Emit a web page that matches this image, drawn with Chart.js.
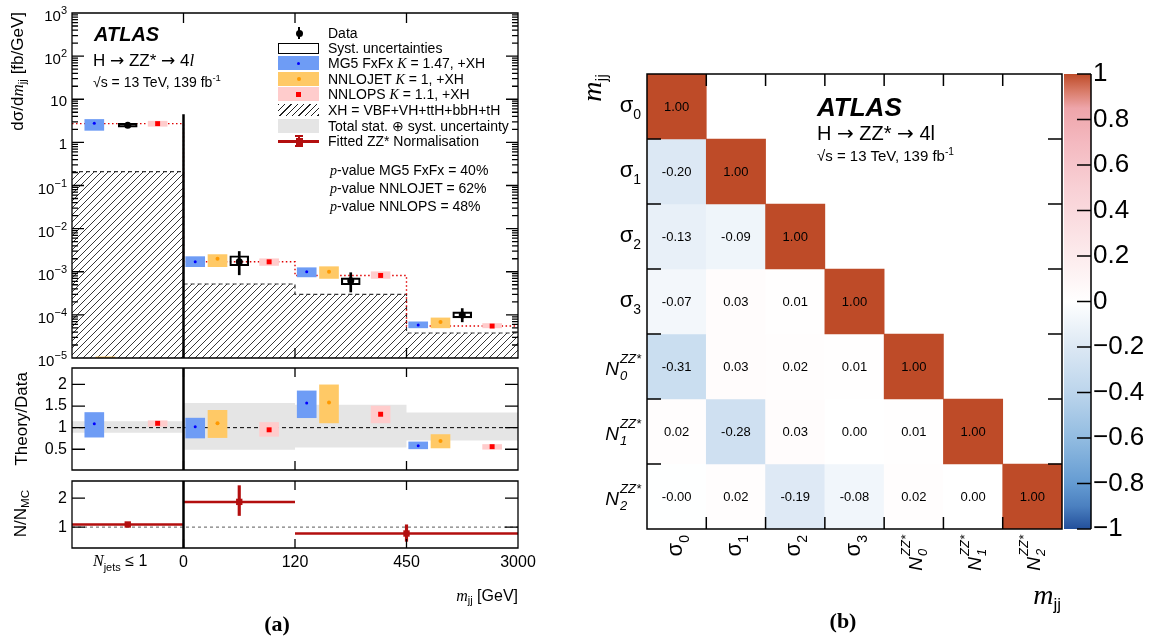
<!DOCTYPE html>
<html>
<head>
<meta charset="utf-8">
<title>H to ZZ* to 4l, m_jj</title>
<script src="https://cdn.jsdelivr.net/npm/chart.js@4.4.1/dist/chart.umd.min.js"></script>
<style>
  body { margin: 0; background: #fff; }
  #page { position: relative; width: 1153px; height: 639px; overflow: hidden; background: #fff;
          font-family: "Liberation Sans", Arial, Helvetica, sans-serif; color: #000; }
  #page canvas { position: absolute; left: 0; top: 0; }
  .t { position: absolute; white-space: nowrap; line-height: 1; }
  .l { transform: translate(0, -50%); }
  .r { transform: translate(-100%, -50%); }
  .c { transform: translate(-50%, -50%); }
  .v { transform-origin: 0 0; transform: rotate(-90deg) translate(-100%, -50%); }
  .it { font-family: "Liberation Serif", "Times New Roman", serif; font-style: italic; }
  .bf { font-family: "Liberation Serif", "Times New Roman", serif; font-weight: bold; }
  .atlas { font-weight: bold; font-style: italic; }
  .ar { font-family: "DejaVu Sans", sans-serif; }
  .sb { font-size: 0.68em; vertical-align: -0.3em; }
  .su { font-size: 0.68em; vertical-align: 0.55em; }
  .ex { font-size: 11px; vertical-align: 7px; }
  .ss { display: inline-block; vertical-align: -5px; font-size: 13px; line-height: 17px; font-style: italic; margin-left: 1px; }
  .ss span { display: block; }
  .sw { position: absolute; box-sizing: border-box; }
</style>
</head>
<body>
<div id="page">
  <canvas id="cTop" width="1153" height="639"></canvas>
  <canvas id="cRatio" width="1153" height="639"></canvas>
  <canvas id="cNorm" width="1153" height="639"></canvas>
  <canvas id="cCorr" width="1153" height="639"></canvas>
  <canvas id="cBar" width="1153" height="639"></canvas>

  <!-- panel (a) text -->
  <div class="t v" style="left:19px;top:12px;font-size:17px">dσ/d<span class="it">m</span><span class="sb">jj</span> [fb/GeV]</div>
  <div class="t v" style="left:21px;top:372px;font-size:17px">Theory/Data</div>
  <div class="t v" style="left:22px;top:490px;font-size:17px">N/N<span class="sb">MC</span></div>
  <div class="t l atlas" style="left:94px;top:34px;font-size:20px">ATLAS</div>
  <div class="t l" style="left:93px;top:60px;font-size:17px">H <span class="ar">→</span> ZZ* <span class="ar">→</span> 4<span class="it">l</span></div>
  <div class="t l" style="left:93px;top:81px;font-size:14px">√s = 13 TeV, 139 fb<span class="su">-1</span></div>

  <div class="sw" style="left:298px;top:27px;width:2px;height:12px;background:#000"></div>
  <div class="sw" style="left:295.5px;top:29.5px;width:7px;height:7px;border-radius:50%;background:#000"></div>
  <div class="sw" style="left:278px;top:42.5px;width:41px;height:11px;border:1.5px solid #000"></div>
  <div class="sw" style="left:278px;top:56px;width:41px;height:14px;background:#6e9cf5"></div>
  <div class="sw" style="left:297px;top:61.5px;width:3px;height:3px;border-radius:50%;background:#00f"></div>
  <div class="sw" style="left:278px;top:72px;width:41px;height:14px;background:#ffc966"></div>
  <div class="sw" style="left:296.5px;top:77px;width:4px;height:4px;border-radius:50%;background:#f90"></div>
  <div class="sw" style="left:278px;top:87px;width:41px;height:14px;background:#ffcccc"></div>
  <div class="sw" style="left:296px;top:91.5px;width:5px;height:5px;background:#f00"></div>
  <div class="sw" style="left:278px;top:104px;width:41px;height:12px;background:repeating-linear-gradient(135deg,#222 0 1px,transparent 1px 4.5px)"></div>
  <div class="sw" style="left:278px;top:119px;width:41px;height:14px;background:#e5e5e5"></div>
  <div class="sw" style="left:278px;top:140px;width:41px;height:2.5px;background:#b30f0f"></div>
  <div class="sw" style="left:297.5px;top:135px;width:2.5px;height:12px;background:#b30f0f"></div>
  <div class="sw" style="left:294.5px;top:135px;width:8px;height:2px;background:#b30f0f"></div>
  <div class="sw" style="left:294.5px;top:145px;width:8px;height:2px;background:#b30f0f"></div>
  <div class="sw" style="left:295.5px;top:137.5px;width:7px;height:7px;background:#b30f0f"></div>

  <div class="t l" style="left:328px;top:33px;font-size:14px">Data</div>
  <div class="t l" style="left:328px;top:48px;font-size:14px">Syst. uncertainties</div>
  <div class="t l" style="left:328px;top:63px;font-size:14px">MG5 FxFx <span class="it">K</span> = 1.47, +XH</div>
  <div class="t l" style="left:328px;top:79px;font-size:14px">NNLOJET <span class="it">K</span> = 1, +XH</div>
  <div class="t l" style="left:328px;top:94px;font-size:14px">NNLOPS <span class="it">K</span> = 1.1, +XH</div>
  <div class="t l" style="left:328px;top:109.5px;font-size:14px">XH = VBF+VH+ttH+bbH+tH</div>
  <div class="t l" style="left:328px;top:126px;font-size:14px">Total stat. ⊕ syst. uncertainty</div>
  <div class="t l" style="left:328px;top:141px;font-size:14px">Fitted ZZ* Normalisation</div>

  <div class="t l" style="left:330px;top:170px;font-size:14px"><span class="it">p</span>-value MG5 FxFx = 40%</div>
  <div class="t l" style="left:330px;top:188px;font-size:14px"><span class="it">p</span>-value NNLOJET = 62%</div>
  <div class="t l" style="left:330px;top:206px;font-size:14px"><span class="it">p</span>-value NNLOPS = 48%</div>

  <div class="t l" style="left:93px;top:563px;font-size:16px"><span class="it">N</span><span style="font-size:11px;vertical-align:-5px">jets</span> ≤ 1</div>
  <div class="t r" style="left:518px;top:597px;font-size:16px"><span class="it">m</span><span class="sb">jj</span> [GeV]</div>
  <div class="t c bf" style="left:277px;top:624px;font-size:22px">(a)</div>

  <!-- panel (b) text -->
  <div class="t v" style="left:594px;top:74px"><span class="it" style="font-size:28px">m</span><span style="font-size:17px;vertical-align:-6px">jj</span></div>
  <div class="t r" style="left:1061px;top:597px"><span class="it" style="font-size:28px">m</span><span style="font-size:17px;vertical-align:-6px">jj</span></div>
  <div class="t l atlas" style="left:817px;top:107px;font-size:26px">ATLAS</div>
  <div class="t l" style="left:817px;top:133px;font-size:20px">H <span class="ar">→</span> ZZ* <span class="ar">→</span> 4l</div>
  <div class="t l" style="left:817px;top:155px;font-size:15px">√s = 13 TeV, 139 fb<span class="su">-1</span></div>
  <div class="t c bf" style="left:843px;top:621px;font-size:22px">(b)</div>
</div>

<script>
// ---------- values ----------
// bins: N_jets <= 1, then m_jj in [0,120), [120,450), [450,3000] GeV
var binEdges = ['', '0', '120', '450', '3000'];

// dσ/dm_jj [fb/GeV]
var dataVal    = [2.48, 1.71e-3, 6.2e-4, 1.0e-4];
var dataStatLo = [2.2, 8.5e-4, 3.4e-4, 6.9e-5];
var dataStatHi = [2.8, 2.95e-3, 9.5e-4, 1.4e-4];
var dataSystLo = [2.24, 1.38e-3, 5.0e-4, 8.5e-5];
var dataSystHi = [2.75, 2.35e-3, 7.2e-4, 1.17e-4];

var mg5Val = [2.77, 1.70e-3, 1.0e-3, 5.8e-5];
var mg5Lo  = [1.9, 1.31e-3, 7.6e-4, 5.0e-5];
var mg5Hi  = [3.4, 2.24e-3, 1.24e-3, 6.9e-5];

var jetVal = [null, 2.0e-3, 1.0e-3, 6.8e-5];
var jetLo  = [1e-6, 1.31e-3, 7.0e-4, 5.0e-5];
var jetHi  = [1.07e-5, 2.5e-3, 1.31e-3, 8.5e-5];

var nlpVal = [2.72, 1.70e-3, 8.2e-4, 5.5e-5];
var nlpLo  = [2.36, 1.40e-3, 7.0e-4, 5.0e-5];
var nlpHi  = [3.1, 2.0e-3, 1.0e-3, 6.3e-5];

var xhVal = [0.21, 5.2e-4, 3.0e-4, 3.8e-5];

// Theory/Data
var mg5R   = [1.09, 1.02, 1.57, 0.58];
var mg5RLo = [0.78, 0.76, 1.23, 0.51];
var mg5RHi = [1.35, 1.22, 1.85, 0.67];
var jetR   = [null, 1.10, 1.58, 0.69];
var jetRLo = [null, 0.77, 1.11, 0.53];
var jetRHi = [null, 1.40, 1.99, 0.84];
var nlpR   = [1.10, 0.95, 1.31, 0.56];
var nlpRLo = [1.03, 0.80, 1.11, 0.50];
var nlpRHi = [1.16, 1.12, 1.50, 0.61];
var totLo  = [0.88, 0.49, 0.54, 0.70];
var totHi  = [1.15, 1.57, 1.53, 1.35];

// fitted ZZ* normalisation N/N_MC (bins in bin-index units)
var normFrom = [0, 1, 2];
var normTo   = [1, 2, 4];
var normVal  = [1.09, 1.87, 0.78];
var normLo   = [1.03, 1.40, 0.51];
var normHi   = [1.15, 2.43, 1.08];

// correlation matrix, lower triangle
var corrNames = ['σ0', 'σ1', 'σ2', 'σ3', 'N0', 'N1', 'N2'];
var corr = [
  [1.00],
  [-0.20, 1.00],
  [-0.13, -0.09, 1.00],
  [-0.07, 0.03, 0.01, 1.00],
  [-0.31, 0.03, 0.02, 0.01, 1.00],
  [0.02, -0.28, 0.03, 0.00, 0.01, 1.00],
  [-0.004, 0.02, -0.19, -0.08, 0.02, 0.00, 1.00]
];

var logTicks   = [1e-5, 1e-4, 1e-3, 1e-2, 1e-1, 1, 10, 100, 1000];
var ratioTicks = [0.5, 1, 1.5, 2];
var normTicks  = [1, 2];
var cbarTicks  = [-1, -0.8, -0.6, -0.4, -0.2, 0, 0.2, 0.4, 0.6, 0.8, 1];

// ---------- style ----------
var BLUE = '#6e9cf5', ORANGE = '#ffc966', PINK = '#ffcccc', GREY = '#e5e5e5', DARKRED = '#b30f0f';
var offMg5 = [0.2, 0.105, 0.105, 0.105];
var offJet = [0.3, 0.305, 0.305, 0.305];
var offData = [0.5, 0.5, 0.5, 0.5];
var offNlp = [0.768, 0.768, 0.768, 0.768];
var BOX = 19;

var cmapStops = [
  [-1.0, [35, 80, 155]], [-0.9, [75, 128, 192]], [-0.8, [100, 155, 210]], [-0.6, [146, 188, 225]],
  [-0.4, [188, 213, 236]], [-0.2, [220, 232, 244]], [0.0, [255, 255, 255]], [0.15, [253, 240, 241]],
  [0.3, [251, 226, 229]], [0.5, [248, 208, 213]], [0.7, [244, 185, 192]], [0.85, [238, 165, 170]],
  [0.93, [215, 120, 100]], [1.0, [190, 75, 40]]
];

Chart.defaults.font.family = '"Liberation Sans", Arial, "DejaVu Sans", sans-serif';
Chart.defaults.color = '#000';
Chart.defaults.animation = false;
Chart.defaults.plugins.legend.display = false;
Chart.defaults.plugins.tooltip.enabled = false;

function cmap(v) {
  for (var k = 1; k < cmapStops.length; k++) {
    var a = cmapStops[k - 1], b = cmapStops[k];
    if (v <= b[0]) {
      var f = (v - a[0]) / (b[0] - a[0]);
      var c = a[1].map(function (x, n) { return Math.round(x + f * (b[1][n] - x)); });
      return 'rgb(' + c.join(',') + ')';
    }
  }
  return 'rgb(' + cmapStops[cmapStops.length - 1][1].join(',') + ')';
}

function pts(vals, off) {
  var out = [];
  vals.forEach(function (v, i) { if (v != null) out.push({x: i + off[i], y: v}); });
  return out;
}
function spans(lo, hi, off) {
  var out = [];
  lo.forEach(function (l, i) { if (l != null) out.push({x: i + off[i], y: [l, hi[i]]}); });
  return out;
}
// histogram outline, value i covers [i, i+1]
function steps(vals) {
  return vals.map(function (v, i) { return {x: i, y: v}; }).concat([{x: vals.length, y: vals[vals.length - 1]}]);
}
function box(lo, hi, off, color, order) {
  return {type: 'bar', data: spans(lo, hi, off), backgroundColor: color, borderWidth: 0,
          barThickness: BOX, grouped: false, order: order};
}
function marker(vals, off, color, style, r, order) {
  return {type: 'line', data: pts(vals, off), showLine: false, pointStyle: style, pointRadius: r,
          pointBackgroundColor: color, pointBorderWidth: 0, order: order};
}
function yLabel(v) {
  return String(Math.round(v * 100) / 100);
}

function makeHatch() {
  var c = document.createElement('canvas');
  c.width = 7; c.height = 7;
  var g = c.getContext('2d');
  g.strokeStyle = '#222';
  g.lineWidth = 0.9;
  g.beginPath();
  g.moveTo(0, 7); g.lineTo(7, 0);
  g.moveTo(-1, 1); g.lineTo(1, -1);
  g.moveTo(6, 8); g.lineTo(8, 6);
  g.stroke();
  return g.createPattern(c, 'repeat');
}

// frame around the plot area with ROOT style inner ticks
function frame(cfg) {
  return {
    id: 'frame',
    afterDatasetsDraw: function (chart) {
      var ctx = chart.ctx, a = chart.chartArea, xs = chart.scales.x, ys = chart.scales.y;
      ctx.save();
      ctx.strokeStyle = '#000';
      ctx.lineWidth = cfg.lw || 1.3;
      ctx.beginPath();
      if (cfg.box !== false) ctx.rect(a.left, a.top, a.right - a.left, a.bottom - a.top);
      if (cfg.rightLine) { ctx.moveTo(a.right, a.top); ctx.lineTo(a.right, a.bottom); }
      (cfg.x || []).forEach(function (v) {
        var p = xs.getPixelForValue(v);
        ctx.moveTo(p, a.top); ctx.lineTo(p, a.top + cfg.xLen);
        ctx.moveTo(p, a.bottom); ctx.lineTo(p, a.bottom - cfg.xLen);
      });
      (cfg.y || []).forEach(function (t) {
        var p = ys.getPixelForValue(t.v);
        if (!cfg.rightOnly) { ctx.moveTo(a.left, p); ctx.lineTo(a.left + t.len, p); }
        ctx.moveTo(a.right, p); ctx.lineTo(a.right - t.len, p);
      });
      ctx.stroke();
      ctx.restore();
    }
  };
}

function yAxis(type, min, max, ticks, size, fmt) {
  return {
    type: type, min: min, max: max,
    grid: {display: false, drawTicks: false}, border: {display: false},
    afterFit: function (s) { s.width = 72; },
    afterBuildTicks: function (s) { s.ticks = ticks.map(function (v) { return {value: v}; }); },
    ticks: {display: !!fmt, padding: 5, autoSkip: false, font: {size: size}, color: '#000', callback: fmt}
  };
}
var hiddenX = {type: 'linear', min: 0, max: 4, display: false, offset: false};

// ---------- (a) top: differential cross section ----------
var minorLog = [];
logTicks.slice(0, -1).forEach(function (d) { for (var k = 2; k < 10; k++) minorLog.push({v: k * d, len: 6}); });

var topChart = new Chart(document.getElementById('cTop'), {
  type: 'bar',
  data: {datasets: [
    {type: 'line', data: steps(xhVal), stepped: true, fill: 'start', backgroundColor: makeHatch(),
     borderColor: '#333', borderWidth: 1.2, borderDash: [4, 3], pointRadius: 0, order: 20},
    {type: 'line', data: steps(nlpVal), stepped: true, fill: false, borderColor: '#e00000',
     borderWidth: 1.4, borderDash: [1.5, 2.5], pointRadius: 0, order: 15},
    box(mg5Lo, mg5Hi, offMg5, BLUE, 10),
    box(jetLo, jetHi, offJet, ORANGE, 10),
    box(nlpLo, nlpHi, offNlp, PINK, 10),
    {type: 'bar', data: spans(dataSystLo, dataSystHi, offData), backgroundColor: 'rgba(255,255,255,0)',
     borderColor: '#000', borderWidth: 1.5, borderSkipped: false, barThickness: BOX, grouped: false, order: 8},
    {type: 'bar', data: spans(dataStatLo, dataStatHi, offData), backgroundColor: '#000', borderWidth: 0,
     barThickness: 2, grouped: false, order: 6},
    marker(mg5Val, offMg5, '#0000ff', 'circle', 1.5, 3),
    marker(jetVal, offJet, '#ff9900', 'circle', 2, 3),
    marker(nlpVal, offNlp, '#ff0000', 'rect', 3.5, 3),
    marker(dataVal, offData, '#000', 'circle', 3.5, 2),
    {type: 'line', data: [{x: 1, y: 4.5}, {x: 1, y: 1e-5}], borderColor: '#000', borderWidth: 2.5, pointRadius: 0, order: 1}
  ]},
  options: {
    responsive: false,
    layout: {padding: {left: 0, top: 13, right: 635, bottom: 281}},
    scales: {x: hiddenX, y: yAxis('logarithmic', 1e-5, 1e3, logTicks, 15, null)}
  },
  plugins: [frame({x: [1, 2, 3], xLen: 10,
                   y: logTicks.map(function (v) { return {v: v, len: 12}; }).concat(minorLog)})]
});

// ---------- (a) middle: Theory/Data ----------
new Chart(document.getElementById('cRatio'), {
  type: 'bar',
  data: {datasets: [
    {type: 'line', data: steps(totLo), stepped: true, fill: false, borderColor: 'rgba(0,0,0,0)', pointRadius: 0, order: 21},
    {type: 'line', data: steps(totHi), stepped: true, fill: '-1', backgroundColor: GREY,
     borderColor: 'rgba(0,0,0,0)', pointRadius: 0, order: 20},
    {type: 'line', data: [{x: 0, y: 1}, {x: 4, y: 1}], borderColor: '#000', borderWidth: 1,
     borderDash: [4, 3], pointRadius: 0, order: 15},
    box(mg5RLo, mg5RHi, offMg5, BLUE, 10),
    box(jetRLo, jetRHi, offJet, ORANGE, 10),
    box(nlpRLo, nlpRHi, offNlp, PINK, 10),
    marker(mg5R, offMg5, '#0000ff', 'circle', 1.5, 3),
    marker(jetR, offJet, '#ff9900', 'circle', 2, 3),
    marker(nlpR, offNlp, '#ff0000', 'rect', 3.5, 3),
    {type: 'line', data: [{x: 1, y: 0.02}, {x: 1, y: 2.38}], borderColor: '#000', borderWidth: 2.5, pointRadius: 0, order: 1}
  ]},
  options: {
    responsive: false,
    layout: {padding: {left: 0, top: 368, right: 635, bottom: 169}},
    scales: {x: hiddenX, y: yAxis('linear', 0.02, 2.38, ratioTicks, 16, yLabel)}
  },
  plugins: [frame({x: [1, 2, 3], xLen: 9, y: ratioTicks.map(function (v) { return {v: v, len: 13}; })})]
});

// ---------- (a) bottom: fitted ZZ* normalisation ----------
var normLine = [];
normVal.forEach(function (v, i) {
  normLine.push({x: normFrom[i], y: v}, {x: normTo[i], y: v}, {x: normTo[i], y: null});
});
var normMid = normVal.map(function (v, i) { return (normFrom[i] + normTo[i]) / 2; });

new Chart(document.getElementById('cNorm'), {
  type: 'bar',
  data: {datasets: [
    {type: 'line', data: [{x: 0, y: 1}, {x: 4, y: 1}], borderColor: '#777', borderWidth: 1.2,
     borderDash: [3, 3], pointRadius: 0, order: 15},
    {type: 'line', data: normLine, borderColor: DARKRED, borderWidth: 2.5, pointRadius: 0, spanGaps: false, order: 5},
    {type: 'bar', data: normVal.map(function (v, i) { return {x: normMid[i], y: [normLo[i], normHi[i]]}; }),
     backgroundColor: DARKRED, borderWidth: 0, barThickness: 2.5, grouped: false, order: 4},
    {type: 'line', data: normVal.map(function (v, i) { return {x: normMid[i], y: v}; }), showLine: false,
     pointStyle: 'rect', pointRadius: 4.5, pointBackgroundColor: DARKRED, pointBorderWidth: 0, order: 3},
    {type: 'line', data: [{x: 1, y: 0.28}, {x: 1, y: 2.59}], borderColor: '#000', borderWidth: 2.5, pointRadius: 0, order: 1}
  ]},
  options: {
    responsive: false,
    layout: {padding: {left: 0, top: 481, right: 635, bottom: 69}},
    scales: {
      x: {type: 'linear', min: 0, max: 4, offset: false,
          grid: {display: false, drawTicks: false}, border: {display: false},
          afterFit: function (s) { s.height = 22; },
          afterBuildTicks: function (s) { s.ticks = [1, 2, 3, 4].map(function (v) { return {value: v}; }); },
          ticks: {padding: 5, autoSkip: false, maxRotation: 0, font: {size: 16}, color: '#000',
                  callback: function (v) { return binEdges[Math.round(v)]; }}},
      y: yAxis('linear', 0.28, 2.59, normTicks, 16, yLabel)
    }
  },
  plugins: [frame({x: [1, 2, 3], xLen: 9, y: normTicks.map(function (v) { return {v: v, len: 13}; })})]
});

// ---------- (b) correlation matrix ----------
var nC = corrNames.length;
var cellText = {
  id: 'cellText',
  afterDatasetsDraw: function (chart) {
    var ctx = chart.ctx;
    ctx.save();
    ctx.font = '13px "Liberation Sans", Arial, sans-serif';
    ctx.fillStyle = '#000';
    ctx.textAlign = 'center';
    ctx.textBaseline = 'middle';
    corr.forEach(function (row, i) {
      var meta = chart.getDatasetMeta(i);
      row.forEach(function (v, j) {
        var p = meta.data[j].getCenterPoint();
        ctx.fillText(v.toFixed(2), p.x, p.y + 1);
      });
    });
    ctx.restore();
  }
};

var corrChart = new Chart(document.getElementById('cCorr'), {
  type: 'bar',
  data: {
    labels: corrNames,
    datasets: corr.map(function (row, i) {
      return {
        data: corrNames.map(function (_, j) { return j <= i ? [nC - 1 - i, nC - i] : null; }),
        backgroundColor: corrNames.map(function (_, j) { return j <= i ? cmap(row[j]) : 'rgba(0,0,0,0)'; }),
        borderWidth: 0, barPercentage: 1, categoryPercentage: 1, grouped: false
      };
    })
  },
  options: {
    responsive: false,
    layout: {padding: {left: 647, top: 74, right: 91, bottom: 110}},
    scales: {x: {display: false}, y: {type: 'linear', min: 0, max: nC, display: false}}
  },
  plugins: [cellText, frame({lw: 1.5, x: [0.5, 1.5, 2.5, 3.5, 4.5, 5.5], xLen: 12,
                              y: [1, 2, 3, 4, 5, 6].map(function (v) { return {v: v, len: 14}; })})]
});

// colour scale
new Chart(document.getElementById('cBar'), {
  type: 'bar',
  data: {
    labels: ['ρ'],
    datasets: [{
      data: [[-1, 1]],
      backgroundColor: function (c) {
        var a = c.chart.chartArea;
        if (!a) return '#fff';
        var g = c.chart.ctx.createLinearGradient(0, a.bottom, 0, a.top);
        cmapStops.forEach(function (s) { g.addColorStop((s[0] + 1) / 2, 'rgb(' + s[1].join(',') + ')'); });
        return g;
      },
      borderWidth: 0, barPercentage: 1, categoryPercentage: 1
    }]
  },
  options: {
    responsive: false,
    layout: {padding: {left: 1064, top: 74, right: 2, bottom: 110}},
    scales: {
      x: {display: false},
      y: {type: 'linear', position: 'right', min: -1, max: 1,
          grid: {display: false, drawTicks: false}, border: {display: false},
          afterFit: function (s) { s.width = 60; },
          afterBuildTicks: function (s) { s.ticks = cbarTicks.map(function (v) { return {value: v}; }); },
          ticks: {padding: 2, autoSkip: false, font: {size: 26}, color: '#000',
                  callback: function (v) { var r = Math.round(v * 10) / 10; return r < 0 ? '−' + String(-r) : String(r); }}}
    }
  },
  plugins: [frame({box: false, rightLine: true, rightOnly: true, lw: 1.5,
                   y: cbarTicks.map(function (v) { return {v: v, len: 14}; })})]
});

// ---------- labels placed with the charts' own scales ----------
var page = document.getElementById('page');
function addLabel(cls, x, y, html, size) {
  var d = document.createElement('div');
  d.className = cls;
  d.style.left = x + 'px';
  d.style.top = y + 'px';
  if (size) d.style.fontSize = size + 'px';
  d.innerHTML = html;
  page.appendChild(d);
}

// log-axis labels with real superscripts
logTicks.forEach(function (v) {
  var e = Math.round(Math.log10(v));
  var html = e === 0 ? '1' : e === 1 ? '10' : '10<span class="ex">' + String(e).replace('-', '−') + '</span>';
  addLabel('t r', topChart.chartArea.left - 5, topChart.scales.y.getPixelForValue(v) + 1, html, 15);
});

function nameHtml(name) {
  var k = name.charAt(1);
  if (name.charAt(0) === 'σ') {
    return '<span style="font-size:22px">σ</span><span style="font-size:14px;vertical-align:-7px">' + k + '</span>';
  }
  return '<span style="font-size:19px;font-style:italic">N</span><span class="ss"><span>ZZ*</span><span>' + k + '</span></span>';
}
var xs = corrChart.scales.x, ys = corrChart.scales.y;
corrNames.forEach(function (name, i) {
  addLabel('t r', 641, ys.getPixelForValue(nC - 0.5 - i), nameHtml(name));
  addLabel('t v', xs.getPixelForValue(i), corrChart.chartArea.bottom + 6, nameHtml(name));
});
</script>
</body>
</html>
